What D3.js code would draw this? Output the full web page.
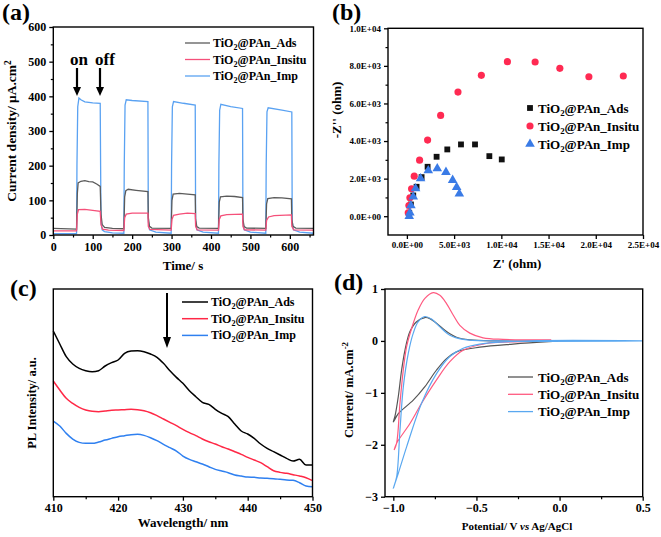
<!DOCTYPE html>
<html><head><meta charset="utf-8">
<script src="https://cdn.jsdelivr.net/npm/d3@7"></script>
<style>
html,body{margin:0;padding:0;background:#fff;}
svg text{font-family:"Liberation Serif","Times New Roman",serif;font-weight:bold;}
</style></head>
<body><div id="chart"></div>
<script>
// ---------- DATA ----------
const seriesNames = ["Ads", "Insitu", "Imp"];
// (a) transient photocurrent: [time s, current µA/cm2]
const aAds = [[0,19],[59,17],[61,120],[63,150],[70,155],[80,157],[90,154],[100,153],[110,147],[119,140],[121,60],[124,30],[130,22],[150,19],[179,18],[181,110],[184,128],[190,132],[210,129],[240,125],[241,50],[244,25],[250,20],[299,19],[301,100],[304,118],[320,120],[340,118],[360,116],[361,45],[364,24],[370,20],[419,19],[421,95],[424,110],[440,112],[460,111],[480,108],[481,45],[484,24],[490,20],[539,19],[541,90],[544,105],[560,108],[580,107],[604,104],[605,45],[608,25],[615,20],[660,19]];
const aInsitu = [[0,12],[59,12],[61,60],[64,73],[80,74],[100,71],[119,68],[121,30],[125,17],[140,14],[179,13],[181,50],[185,60],[200,63],[240,63],[241,25],[245,16],[299,14],[301,45],[305,57],[320,60],[340,63],[360,62],[361,25],[365,15],[419,14],[421,45],[425,55],[440,59],[480,60],[481,25],[485,15],[539,14],[541,42],[546,52],[560,56],[604,58],[605,25],[610,15],[660,14]];
const aImp = [[0,4],[59,4],[60,200],[62,370],[65,395],[70,390],[80,384],[100,381],[119,380],[120,200],[121,40],[124,15],[130,10],[150,6],[179,5],[180,200],[182,375],[185,390],[200,388],[240,385],[241,40],[244,15],[260,8],[299,5],[300,200],[302,370],[305,385],[330,380],[360,375],[361,40],[364,15],[380,8],[419,5],[420,200],[422,360],[425,377],[450,370],[480,365],[481,40],[484,15],[500,8],[539,5],[540,200],[542,355],[545,367],[580,360],[605,355],[606,40],[609,15],[625,8],[660,5]];
const aXTicks = [0,100,200,300,400,500,600];
const aYTicks = [0,100,200,300,400,500,600];

// (b) Nyquist: [Z' ohm, -Z'' ohm]
const bAds = [[247,181],[424,624],[672,1103],[1025,1566],[1556,2079],[2193,2630],[3146,3163],[4278,3554],[5728,3820],[7213,3820],[8731,3197],[10045,3021]];
const bInsitu = [[141,181],[212,570],[318,980],[495,1460],[778,2131],[1344,2984],[2193,4049],[3574,5365],[5410,6607],[7885,7496],[10644,8224],[13578,8206],[16195,7869],[19271,7424],[22914,7460]];
const bImp = [[247,0],[318,181],[424,570],[672,1034],[920,1476],[1450,2009],[2264,2435],[3217,2541],[4137,2344],[4845,1918],[5269,1545],[5552,1193]];
const bXTicks = [0,5000,10000,15000,20000,25000];
const bYTicks = [0,2000,4000,6000,8000,10000];

// (c) PL spectra, wavelength 410..450 nm step 1
const cWave = [410,411,412,413,414,415,416,417,418,419,420,421,422,423,424,425,426,427,428,429,430,431,432,433,434,435,436,437,438,439,440,441,442,443,444,445,446,447,448,449,450];
const cAds = [497,458,420,398,385,378,375,378,392,402,410,430,437,438,435,428,418,400,378,358,340,318,300,283,277,262,250,240,218,197,188,175,158,145,135,125,115,107,112,95,95];
const cInsitu = [347,320,295,280,268,260,256,255,257,259,260,261,262,261,258,252,243,233,223,213,202,192,183,173,165,158,150,143,135,127,118,110,102,90,78,73,70,66,62,57,48];
const cImp = [227,212,190,173,163,160,160,164,170,175,180,183,186,187,184,177,168,157,147,137,122,112,105,98,90,82,77,72,65,62,59,58,56,55,54,52,50,49,42,32,30];
const cXTicks = [410,420,430,440,450];

// (d) cyclic voltammetry: [E V vs Ag/AgCl, I mA/cm2]
const dAds = [[-0.04,-0.01],[-0.28,-0.06],[-0.48,-0.12],[-0.62,-0.21],[-0.68,-0.34],[-0.74,-0.56],[-0.81,-0.88],[-0.88,-1.14],[-0.97,-1.40],[-1.0,-1.56],[-0.99,-1.45],[-0.97,-1.07],[-0.95,-0.56],[-0.93,-0.18],[-0.90,0.18],[-0.86,0.37],[-0.81,0.45],[-0.78,0.43],[-0.74,0.34],[-0.68,0.18],[-0.62,0.07],[-0.54,0.02],[-0.38,0.0],[-0.04,0.0]];
const dInsitu = [[-0.05,0.0],[-0.30,-0.02],[-0.44,-0.05],[-0.58,-0.18],[-0.66,-0.40],[-0.74,-0.75],[-0.83,-1.2],[-0.90,-1.59],[-0.98,-1.97],[-0.995,-2.1],[-0.98,-1.97],[-0.96,-1.2],[-0.94,-0.56],[-0.92,-0.11],[-0.89,0.24],[-0.85,0.6],[-0.81,0.82],[-0.76,0.93],[-0.72,0.88],[-0.68,0.72],[-0.64,0.5],[-0.60,0.3],[-0.54,0.15],[-0.46,0.06],[-0.34,0.03],[-0.05,0.02]];
const dImp = [[0.5,0],[-0.18,0],[-0.48,-0.06],[-0.58,-0.14],[-0.66,-0.30],[-0.74,-0.63],[-0.83,-1.2],[-0.92,-2.04],[-0.97,-2.55],[-1.0,-2.84],[-0.98,-2.62],[-0.96,-1.72],[-0.94,-0.89],[-0.91,-0.24],[-0.88,0.15],[-0.85,0.37],[-0.81,0.47],[-0.77,0.42],[-0.72,0.27],[-0.66,0.11],[-0.58,0.03],[-0.38,0],[0.5,0]];
const dXTicks = [-1.0,-0.5,0.0,0.5];
const dYTicks = [-3,-2,-1,0,1];

// ---------- DRAW ----------
const svg = d3.select("#chart").append("svg").attr("width",661).attr("height",537);

function frame(x, y){
  const [x0,x1] = x.range(), [y0,y1] = y.range();
  svg.append("rect").attr("x",x0).attr("y",y1).attr("width",x1-x0).attr("height",y0-y1)
    .attr("fill","none").attr("stroke","#000").attr("stroke-width",1.4);
}
function axes(x, y, o){
  const [x0,x1] = x.range(), [y0,y1] = y.range();
  if (o.xMinor){
    svg.append("g").attr("transform",`translate(0,${y0})`)
      .call(d3.axisBottom(x).tickValues(o.xMinor).tickSize(2.5).tickFormat("").tickSizeOuter(0))
      .call(g=>g.select(".domain").remove()).selectAll("line").attr("stroke-width",1.2);
  }
  if (o.yMinor){
    svg.append("g").attr("transform",`translate(${x0},0)`)
      .call(d3.axisLeft(y).tickValues(o.yMinor).tickSize(2.5).tickFormat("").tickSizeOuter(0))
      .call(g=>g.select(".domain").remove()).selectAll("line").attr("stroke-width",1.2);
  }
  const gx = svg.append("g").attr("transform",`translate(0,${y0})`)
    .call(d3.axisBottom(x).tickValues(o.xTicks).tickSize(4).tickPadding(3).tickFormat(o.xFmt).tickSizeOuter(0));
  gx.select(".domain").remove();
  gx.selectAll("line").attr("stroke-width",1.3);
  gx.selectAll("text").attr("font-size",o.xfs).attr("fill","#000");
  if (o.yTicks){
    const gy = svg.append("g").attr("transform",`translate(${x0},0)`)
      .call(d3.axisLeft(y).tickValues(o.yTicks).tickSize(4).tickPadding(3).tickFormat(o.yFmt).tickSizeOuter(0));
    gy.select(".domain").remove();
    gy.selectAll("line").attr("stroke-width",1.3);
    gy.selectAll("text").attr("font-size",o.yfs).attr("fill","#000");
  }
}
function legendText(g, x, y, name, fs){
  const t = g.append("text").attr("x",x).attr("y",y).attr("font-size",fs).attr("fill","#000");
  t.append("tspan").text("TiO");
  t.append("tspan").text("2").attr("font-size",fs*0.68).attr("dy",fs*0.25);
  t.append("tspan").text("@PAn_"+name).attr("dy",-fs*0.25);
}
function panelLabel(txt, x, y){
  svg.append("text").attr("x",x).attr("y",y).attr("font-size",24).text(txt);
}
function rotLabel(x, y, fs, parts){
  const t = svg.append("text").attr("transform",`translate(${x},${y}) rotate(-90)`)
    .attr("text-anchor","middle").attr("font-size",fs);
  parts.forEach(p=>{
    const s = t.append("tspan").text(p.t);
    if (p.sup){ s.attr("font-size",fs*0.7).attr("dy",-fs*0.4); }
  });
}
const sci = d => { const s = d3.format(".1e")(d).toUpperCase();
  const m = s.match(/^(-?[\d.]+)E([+-])(\d+)$/); return m[1]+"E"+m[2]+m[3].padStart(2,"0"); };

// ---- Panel (a) ----
{
  const x = d3.scaleLinear().domain([0,660]).range([53.3,313.5]);
  const y = d3.scaleLinear().domain([0,600]).range([235,27]);
  const colors = ["#5b5b5b","#f5507a","#5aa2f2"];
  const line = d3.line().x(d=>x(d[0])).y(d=>y(d[1]));
  [aImp, aAds, aInsitu].forEach((s,i)=>{
    const c = [colors[2],colors[0],colors[1]][i];
    svg.append("path").attr("d",line(s)).attr("fill","none").attr("stroke",c).attr("stroke-width",1.3);
  });
  frame(x,y);
  axes(x,y,{xTicks:aXTicks,yTicks:aYTicks,xFmt:d3.format("d"),yFmt:d3.format("d"),xfs:12,yfs:12,
    xMinor:d3.range(50,660,100), yMinor:d3.range(50,600,100)});
  svg.append("text").attr("x",183).attr("y",270).attr("text-anchor","middle").attr("font-size",13).text("Time/ s");
  rotLabel(16,131,13.5,[{t:"Current density/ μA.cm"},{t:"2",sup:true}]);
  const lg = svg.append("g");
  seriesNames.forEach((n,i)=>{
    const yy = 43 + i*16.5;
    lg.append("line").attr("x1",185).attr("x2",210).attr("y1",yy).attr("y2",yy).attr("stroke",colors[i]).attr("stroke-width",1.3);
    legendText(lg,213,yy+4,n,12);
  });
  svg.append("text").attr("x",79).attr("y",65).attr("text-anchor","middle").attr("font-size",17).text("on");
  svg.append("text").attr("x",105).attr("y",65).attr("text-anchor","middle").attr("font-size",17).text("off");
  [77,100].forEach(ax=>{
    svg.append("line").attr("x1",ax).attr("x2",ax).attr("y1",68).attr("y2",88).attr("stroke","#000").attr("stroke-width",2.2);
    svg.append("path").attr("d",`M${ax-4},87 L${ax+4},87 L${ax},96 Z`).attr("fill","#000");
  });
  panelLabel("(a)",2,20);
}

// ---- Panel (b) ----
{
  const x = d3.scaleLinear().domain([-2000,25000]).range([388,643]);
  const y = d3.scaleLinear().domain([-1000,10000]).range([235,28.3]);
  frame(x,y);
  axes(x,y,{xTicks:bXTicks,yTicks:bYTicks,xFmt:sci,yFmt:sci,xfs:9,yfs:9,
    yMinor:[1000,3000,5000,7000,9000]});
  const sqr = d3.symbol().type(d3.symbolSquare).size(34);
  const cir = d3.symbol().type(d3.symbolCircle).size(40);
  const tri = d3.symbol().type(d3.symbolTriangle).size(40);
  const sets = [[bAds,sqr,"#111"],[bInsitu,cir,"#ff2a52"],[bImp,tri,"#3a7be6"]];
  sets.forEach(([data,sym,col])=>{
    svg.append("g").selectAll("path").data(data).join("path")
      .attr("transform",d=>`translate(${x(d[0])},${y(d[1])})`).attr("d",sym).attr("fill",col);
  });
  svg.append("text").attr("x",517).attr("y",268).attr("text-anchor","middle").attr("font-size",13).text("Z' (ohm)");
  rotLabel(341,110,13,[{t:"-Z'' (ohm)"}]);
  const lg = svg.append("g");
  sets.forEach(([d,sym,col],i)=>{
    const yy = 108 + i*18;
    lg.append("path").attr("transform",`translate(530,${yy})`).attr("d",sym).attr("fill",col);
    legendText(lg,538,yy+4.5,seriesNames[i],13);
  });
  panelLabel("(b)",332,20);
}

// ---- Panel (c) ----
{
  const x = d3.scaleLinear().domain([410,450]).range([53.3,312.5]);
  const y = d3.scaleLinear().domain([0,623]).range([496.7,289]);
  const colors = ["#000000","#ff2846","#2f80f0"];
  const line = d3.line().x((d,i)=>x(cWave[i])).y(d=>y(d)).curve(d3.curveMonotoneX);
  [cAds,cInsitu,cImp].forEach((s,i)=>{
    svg.append("path").attr("d",line(s)).attr("fill","none").attr("stroke",colors[i]).attr("stroke-width",1.5);
  });
  frame(x,y);
  axes(x,y,{xTicks:cXTicks,xFmt:d3.format("d"),xfs:12,xMinor:[415,425,435,445]});
  svg.append("text").attr("x",183).attr("y",527).attr("text-anchor","middle").attr("font-size",13).text("Wavelength/ nm");
  rotLabel(36,403,12.5,[{t:"PL Intensity/ a.u."}]);
  const lg = svg.append("g");
  seriesNames.forEach((n,i)=>{
    const yy = 302 + i*16.7;
    lg.append("line").attr("x1",182).attr("x2",208).attr("y1",yy).attr("y2",yy).attr("stroke",colors[i]).attr("stroke-width",1.5);
    legendText(lg,211,yy+4,n,12);
  });
  svg.append("line").attr("x1",167).attr("x2",167).attr("y1",293).attr("y2",338).attr("stroke","#000").attr("stroke-width",2);
  svg.append("path").attr("d","M163,337 L171,337 L167,348 Z").attr("fill","#000");
  panelLabel("(c)",10,296);
}

// ---- Panel (d) ----
{
  const x = d3.scaleLinear().domain([-1.05,0.5]).range([385,642.7]);
  const y = d3.scaleLinear().domain([-3,1]).range([496.7,289]);
  const colors = ["#555555","#ff5a80","#5aa8f0"];
  const line = d3.line().x(d=>x(d[0])).y(d=>y(d[1])).curve(d3.curveCatmullRom.alpha(0.5));
  [dAds,dInsitu,dImp].forEach((s,i)=>{
    svg.append("path").attr("d",line(s)).attr("fill","none").attr("stroke",colors[i]).attr("stroke-width",1.2);
  });
  frame(x,y);
  axes(x,y,{xTicks:dXTicks,yTicks:dYTicks,xFmt:d3.format(".1f"),yFmt:d3.format("d"),xfs:12,yfs:12,
    xMinor:[-0.75,-0.25,0.25]});
  const xl = svg.append("text").attr("x",517).attr("y",530).attr("text-anchor","middle").attr("font-size",11);
  xl.append("tspan").text("Potential/ V ");
  xl.append("tspan").text("vs").attr("font-style","italic");
  xl.append("tspan").text(" Ag/AgCl");
  rotLabel(353,390,12.5,[{t:"Current/ mA.cm"},{t:"-2",sup:true}]);
  const lg = svg.append("g");
  seriesNames.forEach((n,i)=>{
    const yy = 377 + i*17.3;
    lg.append("line").attr("x1",508).attr("x2",533).attr("y1",yy).attr("y2",yy).attr("stroke",colors[i]).attr("stroke-width",1.3);
    legendText(lg,538,yy+4.5,n,13);
  });
  panelLabel("(d)",334,290);
}
</script></body></html>
